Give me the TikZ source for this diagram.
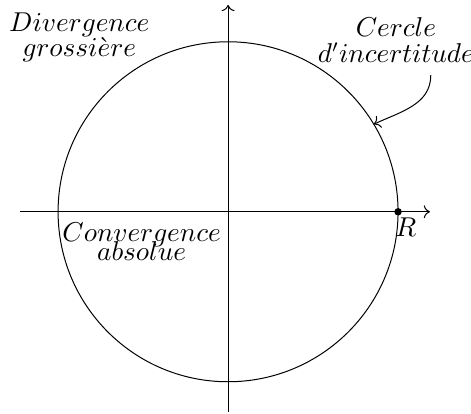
\documentclass[tikz,border=0pt]{standalone}
\usepackage{amsmath,amssymb}
\usepackage{tikz}
\usetikzlibrary{arrows.meta,positioning,calc}

\begin{document}
\begin{tikzpicture}[lbl/.style={anchor=base,inner sep=0pt,font=\fontsize{10.7}{12}\selectfont}]
    \useasboundingbox (-3.22,-2.85) rectangle (3.43,2.99);
    \def\rayon{2.4}

    % Axes
    \coordinate (O) at (0,0);
    \coordinate (xmin) at (-2.94,0);
    \coordinate (xmax) at (2.85,0);
    \coordinate (ymin) at (0,-2.82);
    \coordinate (ymax) at (0,2.92);
    \draw[->] (xmin) -- (xmax);
    \draw[->] (ymin) -- (ymax);

    % Cercle de convergence
    \draw (O) circle (\rayon);
    \fill (\rayon,0) coordinate (R) circle (1.5pt);
    \node[lbl] (Rlab) at (2.51,-0.35) {$R$};

    % Labels
    \node[lbl] (div) at (-2.1,2.54) {$Divergence$};
    \node[lbl] (gro) at ([yshift=-10pt]div.base) {$grossi\grave{e}re$};
    \node[lbl] (conv) at (-1.22,-0.424) {$Convergence$};
    \node[lbl] (abs) at ([yshift=-7.6pt]conv.base) {$absolue$};
    \node[lbl] (cer) at (2.37,2.47) {$Cercle$};
    \node[lbl] (inc) at ([yshift=-10.4pt]cer.base) {$d'incertitude$};

    \coordinate (pt) at (31:\rayon);
    \draw[->] ([xshift=14pt,yshift=-5pt]inc.base) to[out=-90,in=25] (pt);
\end{tikzpicture}
\end{document}
